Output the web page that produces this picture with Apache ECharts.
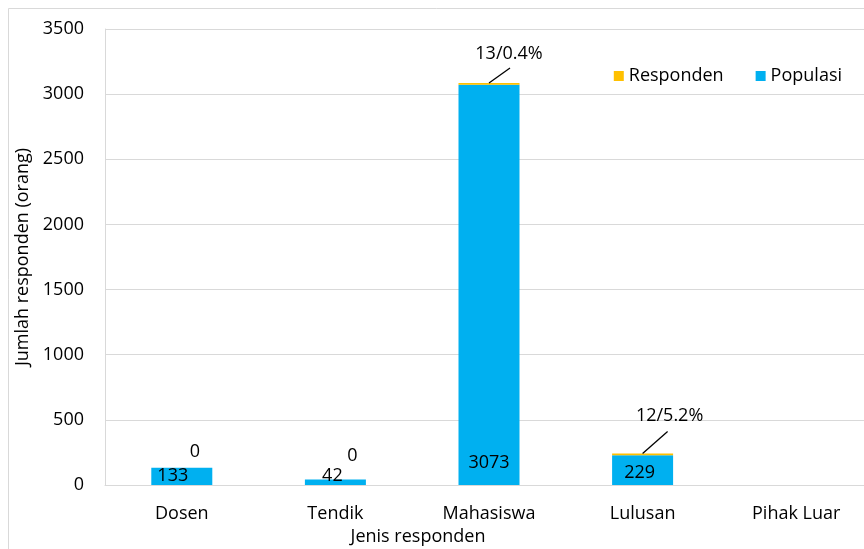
<!DOCTYPE html>
<html>
<head>
<meta charset="utf-8">
<script src="https://cdn.jsdelivr.net/npm/echarts@6/dist/echarts.min.js"></script>
<style>
  html, body { margin: 0; padding: 0; background: #fff; }
  #chart { width: 864px; height: 549px; }
</style>
</head>
<body>
<div id="chart"></div>
<script>
// data
var categories = ['Dosen', 'Tendik', 'Mahasiswa', 'Lulusan', 'Pihak Luar'];
var populasi = [133, 42, 3073, 229, null];
var responden = [0, 0, 13, 12, null];

// label nudges (Excel had them dragged around a bit)
var respOffsets = [[13, -2], [17, -10], [20, -15], [27, -24], [0, 0]];
var popOffsets = [[-9, 0], [-3, 0], [0, -13], [-3, -3], [0, 0]];
// leader line end, in px from the top of each stack
var leaderOffsets = [[0, 0], [0, 0], [21, -15], [25, -22], [0, 0]];

var font = 'Open Sans';

function renderChart(dom) {
    if (!dom) return;
    var myChart = echarts.init(dom);
    var option;

    var leaderData = [];
    responden.forEach(function (v, i) {
        if (v > 0) leaderData.push([i, populasi[i] + v]);
    });

    option = {
        backgroundColor: '#fff',
        animation: false,
        textStyle: { fontFamily: font },
        graphic: [{
            type: 'rect',
            shape: { x: 8.5, y: 8.5, width: 900, height: 600 },
            style: { fill: 'none', stroke: '#d9d9d9', lineWidth: 1 },
            silent: true
        }],
        legend: {
            data: ['Responden', 'Populasi'],
            right: 17,
            top: 62,
            itemWidth: 10,
            itemHeight: 10,
            itemGap: 32,
            icon: 'rect',
            textStyle: { fontFamily: font, fontSize: 18, color: '#000' }
        },
        grid: {
            left: 105,
            top: 29,
            bottom: 64,
            width: 768,
            containLabel: false,
            outerBoundsMode: 'none'
        },
        xAxis: {
            type: 'category',
            data: categories,
            name: 'Jenis responden',
            nameLocation: 'middle',
            nameGap: 41,
            nameTextStyle: { fontFamily: font, fontSize: 18, color: '#000', padding: [0, 142, 0, 0] },
            axisLine: { lineStyle: { color: '#d9d9d9' } },
            axisTick: { show: false },
            axisLabel: { fontFamily: font, fontSize: 18, color: '#000', margin: 20 }
        },
        yAxis: {
            type: 'value',
            min: 0,
            max: 3500,
            interval: 500,
            name: 'Jumlah responden (orang)',
            nameLocation: 'middle',
            nameGap: 52,
            nameTextStyle: { fontFamily: font, fontSize: 18, color: '#000' },
            axisLine: { show: true, lineStyle: { color: '#d9d9d9' } },
            axisTick: { show: false },
            axisLabel: {
                fontFamily: font, fontSize: 18, color: '#000', margin: 21,
                formatter: function (v) { return String(v); }
            },
            splitLine: { lineStyle: { color: '#d9d9d9' } }
        },
        series: [
            {
                name: 'Populasi',
                type: 'bar',
                stack: 'total',
                barWidth: 61,
                data: populasi,
                itemStyle: { color: '#00B0F0' },
                label: {
                    show: true,
                    position: 'insideBottom',
                    distance: 0,
                    fontFamily: font,
                    fontSize: 18,
                    color: '#000'
                },
                labelLayout: function (p) {
                    var o = popOffsets[p.dataIndex] || [0, 0];
                    return { dx: o[0], dy: o[1] };
                }
            },
            {
                name: 'Responden',
                type: 'bar',
                stack: 'total',
                barWidth: 61,
                data: responden,
                itemStyle: { color: '#FFC000' },
                label: {
                    show: true,
                    position: 'top',
                    fontFamily: font,
                    fontSize: 18,
                    color: '#000',
                    formatter: function (p) {
                        var v = p.value;
                        if (v == null) return '';
                        if (!v) return '0';
                        var pop = populasi[p.dataIndex];
                        return v + '/' + (v / pop * 100).toFixed(1) + '%';
                    }
                },
                labelLayout: function (p) {
                    var o = respOffsets[p.dataIndex] || [0, 0];
                    return { dx: o[0], dy: o[1] };
                }
            },
            {
                // leader lines from the stack top to the moved labels
                name: 'leader',
                type: 'custom',
                silent: true,
                z: 5,
                data: leaderData,
                encode: { x: 0, y: 1 },
                renderItem: function (params, api) {
                    var idx = api.value(0);
                    var p = api.coord([idx, api.value(1)]);
                    var o = leaderOffsets[idx];
                    return {
                        type: 'line',
                        shape: { x1: p[0], y1: p[1], x2: p[0] + o[0], y2: p[1] + o[1] },
                        style: { stroke: '#000', lineWidth: 1.3 }
                    };
                }
            }
        ]
    };

    myChart.setOption(option);
}

renderChart(document.getElementById('chart'));
</script>
</body>
</html>
